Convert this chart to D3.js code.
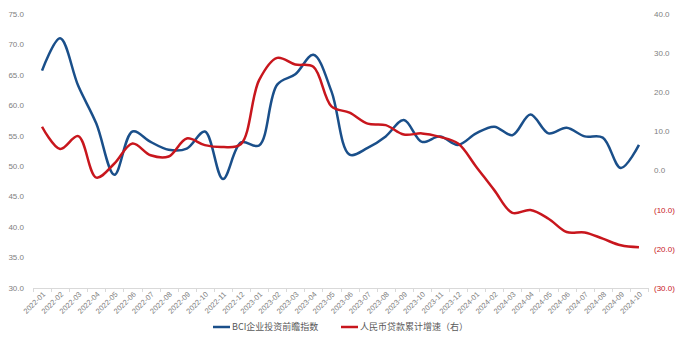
<!DOCTYPE html>
<html><head><meta charset="utf-8">
<script src="https://cdn.jsdelivr.net/npm/d3@7/dist/d3.min.js"></script>
<style>body{margin:0;background:#fff}svg{display:block}</style>
</head><body><svg id="c" width="678" height="340"></svg>
<script>
const months = ["2022-01","2022-02","2022-03","2022-04","2022-05","2022-06","2022-07","2022-08","2022-09","2022-10","2022-11","2022-12",
"2023-01","2023-02","2023-03","2023-04","2023-05","2023-06","2023-07","2023-08","2023-09","2023-10","2023-11","2023-12",
"2024-01","2024-02","2024-03","2024-04","2024-05","2024-06","2024-07","2024-08","2024-09","2024-10"];
const bciValues = [65.7,71.0,63.2,57.0,48.6,55.7,54.0,52.7,52.9,55.7,47.9,53.9,
53.4,63.4,65.1,68.3,62.3,51.9,53.0,54.9,57.6,54.0,54.9,53.5,
55.4,56.5,55.1,58.5,55.4,56.3,54.9,54.7,49.7,53.5];
const loanValues = [11.2,5.5,8.8,-1.8,1.8,6.9,3.9,3.6,8.2,6.5,6.0,6.8,
23.1,28.8,27.1,26.5,16.4,14.8,12.0,11.6,9.2,9.5,8.6,6.9,
1.0,-5.0,-10.8,-10.1,-12.3,-15.7,-15.8,-17.4,-19.1,-19.6];
const leftTicks = [30,35,40,45,50,55,60,65,70,75];
const rightTicks = [-30,-20,-10,0,10,20,30,40];
const seriesNames = ["BCI企业投资前瞻指数","人民币贷款累计增速（右）"];

const svg = d3.select("#c");
const pL = 33, pR = 648, pT = 14, pB = 288;
const x = d3.scaleBand().domain(months).range([pL, pR]);
const yL = d3.scaleLinear().domain([30,75]).range([pB, pT]);
const yR = d3.scaleLinear().domain([-30,40]).range([pB, pT]);
const cx = d => x(d) + x.bandwidth()/2;
const blue = "#1a4f8a", red = "#c8161d", gray = "#808080";
const font = "Arial, 'Liberation Sans', 'Noto Sans CJK SC', sans-serif";

svg.append("g").selectAll("text").data(leftTicks).join("text")
  .attr("x", 24).attr("y", d => yL(d)).attr("dy","0.35em")
  .attr("text-anchor","end").attr("font-family",font).attr("font-size",8)
  .attr("fill",gray).text(d => d.toFixed(1));
const fmtR = d => d < 0 ? "(" + Math.abs(d).toFixed(1) + ")" : d.toFixed(1);
svg.append("g").selectAll("text").data(rightTicks).join("text")
  .attr("x", 654).attr("y", d => yR(d)).attr("dy","0.35em")
  .attr("text-anchor","start").attr("font-family",font).attr("font-size",8)
  .attr("fill", d => d < 0 ? red : gray).text(fmtR);

svg.append("line").attr("x1",pL).attr("x2",pR).attr("y1",pB+0.5).attr("y2",pB+0.5)
  .attr("stroke","#d9d9d9").attr("stroke-width",1);
const bounds = months.map(m => x(m)).concat([pR]);
svg.append("g").selectAll("line").data(bounds).join("line")
  .attr("x1", d => Math.round(d)+0.5).attr("x2", d => Math.round(d)+0.5)
  .attr("y1", pB).attr("y2", pB+4).attr("stroke","#d9d9d9");
svg.append("g").selectAll("text").data(months).join("text")
  .attr("transform", d => `translate(${cx(d)+2},${pB+5}) rotate(-45)`)
  .attr("text-anchor","end").attr("dy","0.35em").attr("font-family",font).attr("font-size",7.5)
  .attr("fill",gray).text(d => d);

const curve = d3.curveCatmullRom.alpha(0.5);
const lineL = d3.line().x((d,i) => cx(months[i])).y(d => yL(d)).curve(curve);
const lineR = d3.line().x((d,i) => cx(months[i])).y(d => yR(d)).curve(curve);
svg.append("path").attr("d", lineL(bciValues)).attr("fill","none").attr("stroke",blue).attr("stroke-width",2.5);
svg.append("path").attr("d", lineR(loanValues)).attr("fill","none").attr("stroke",red).attr("stroke-width",2.5);

const leg = [{n:seriesNames[0], c:blue, x:213},{n:seriesNames[1], c:red, x:341}];
const lg = svg.append("g").selectAll("g").data(leg).join("g").attr("transform", d => `translate(${d.x},327)`);
lg.append("line").attr("x1",0).attr("x2",17).attr("stroke", d => d.c).attr("stroke-width",2.5);
lg.append("text").attr("x",19).attr("dy","0.35em").attr("font-family","'Noto Sans CJK SC', sans-serif")
  .attr("font-size",9).attr("fill","#595959").text(d => d.n);
</script></body></html>
